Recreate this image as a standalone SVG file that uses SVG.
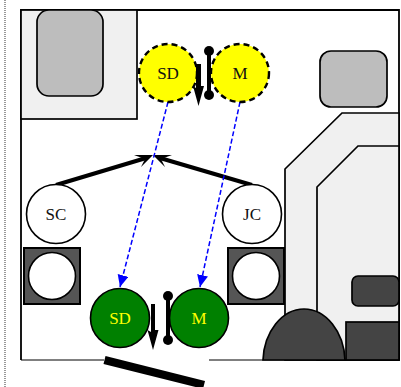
<svg xmlns="http://www.w3.org/2000/svg" width="401" height="387" viewBox="0 0 401 387">
<style>
.lb{font-family:"Liberation Serif","Times New Roman",serif;font-size:17px;text-anchor:middle;fill:#111}
.o{stroke:#000;stroke-width:1.7}
.lt{fill:#f0f0f0}.gr{fill:#bdbdbd}.dk{fill:#444}.sq{fill:#555;stroke:#000;stroke-width:2}
.w{fill:#fff;stroke:#000;stroke-width:1.6}
.y{fill:#ff0;stroke:#000;stroke-width:2.4;stroke-dasharray:6 4}
.g{fill:#008000;stroke:#000;stroke-width:1.6}
.b{stroke:#00f;stroke-width:1.5;stroke-dasharray:5 2.5;fill:none;marker-end:url(#ba)}
.k{stroke:#000;fill:none}
</style>
<defs>
<marker id="ba" markerUnits="userSpaceOnUse" markerWidth="14" markerHeight="12" refX="12" refY="5.500" orient="auto"><path d="M0 0L12 5.500L0 11Z" fill="#00f"/></marker>
</defs>
<g id="frame">
<line x1="5" y1="0" x2="5" y2="387" stroke="#555" stroke-width="1.2" stroke-dasharray="1 1"/>
<path d="M21 360V10H399V360" fill="none" stroke="#000" stroke-width="1.800"/>
<path d="M21 360H104M209 360H399" fill="none" stroke="#000" stroke-width="1"/>
</g>
<g id="building-top-left">
<rect x="21" y="10" width="116" height="109" class="lt o"/>
<rect x="37" y="10" width="66" height="86" rx="12" class="gr o"/>
</g>
<g id="building-right">
<path d="M285 360V169L342 113H399V360Z" class="lt o"/>
<path d="M317 360V187L358 146H399V360Z" class="lt o"/>
<rect x="320" y="51" width="67" height="56" rx="11" class="gr o"/>
<rect x="352" y="276" width="47" height="30" rx="6" class="dk o"/>
<rect x="346" y="322" width="53" height="38" class="dk o"/>
<path d="M263 360C264 332 282 309 304 309C326 309 344 332 345 360Z" class="dk o"/>
</g>
<g id="connectors">
<line x1="56" y1="185" x2="146" y2="158" stroke="#000" stroke-width="4"/>
<path d="M153 155L134 155L145 159L141 167Z" fill="#000"/>
<line x1="252" y1="185" x2="160" y2="158" stroke="#000" stroke-width="4"/>
<path d="M153 155L172 155L161 159L165 167Z" fill="#000"/>
<line x1="168" y1="102" x2="120" y2="287" class="b"/>
<line x1="240" y1="102" x2="200" y2="287" class="b"/>
</g>
<g id="node-SD-top">
<circle cx="168" cy="73" r="29" class="y"/>
<text x="168" y="79" class="lb">SD</text>
</g>
<g id="node-M-top">
<circle cx="240" cy="73" r="29" class="y"/>
<text x="240" y="79" class="lb">M</text>
</g>
<g id="switch-top">
<path d="M196 64H201V86L204 86L198.500 106L193 86L196 88Z" fill="#000"/>
<line x1="209" y1="51" x2="209" y2="95" class="k" stroke-width="4"/>
<circle cx="209" cy="51" r="5"/><circle cx="209" cy="95" r="5"/>
</g>
<g id="node-SC">
<circle cx="56" cy="214" r="29.500" class="w"/>
<text x="56" y="220" class="lb">SC</text>
</g>
<g id="node-JC">
<circle cx="252" cy="214" r="29.500" class="w"/>
<text x="252" y="220" class="lb">JC</text>
</g>
<g id="square-left">
<rect x="24" y="248" width="56" height="56" class="sq"/>
<circle cx="52" cy="276" r="23.500" class="w"/>
</g>
<g id="square-right">
<rect x="228" y="248" width="56" height="56" class="sq"/>
<circle cx="256" cy="276" r="23.500" class="w"/>
</g>
<g id="node-SD-bottom">
<circle cx="120" cy="318" r="29.500" class="g"/>
<text x="120" y="324" class="lb" style="fill:#ff0">SD</text>
</g>
<g id="node-M-bottom">
<circle cx="199" cy="318" r="29.500" class="g"/>
<text x="199" y="324" class="lb" style="fill:#ff0">M</text>
</g>
<g id="switch-bottom">
<path d="M151 304H155V330L158.500 330L153 350L147.500 330L151 332Z" fill="#000"/>
<line x1="168" y1="296" x2="168" y2="340" class="k" stroke-width="4"/>
<circle cx="168" cy="296" r="5"/><circle cx="168" cy="340" r="5"/>
</g>
<g id="gate">
<line x1="104.500" y1="360" x2="204" y2="385" stroke="#000" stroke-width="8"/>
</g>
</svg>
